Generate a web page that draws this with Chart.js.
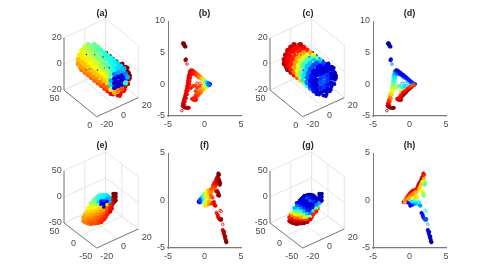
<!DOCTYPE html>
<html><head><meta charset="utf-8">
<script src="https://cdn.jsdelivr.net/npm/chart.js@4/dist/chart.umd.min.js"></script>
<style>html,body{margin:0;padding:0;background:#fff;width:498px;height:279px;overflow:hidden}
canvas{position:absolute;display:block}</style></head><body>
<script>
// ---------- tick labels ----------
const ticks2dX = [-5, 0, 5];
const ticks2dYTop = [-5, 0, 5, 10];
const ticks2dYBottom = [-5, 0, 5];
const ticksCylX = [-20, 0, 20], ticksCylY = [0, 50], ticksCylZ = [-20, 0, 20];
const ticksSwX = [-20, 0, 20], ticksSwY = [-50, 0, 50], ticksSwZ = [-50, 0, 50];

// ---------- panels (a),(c): cylinder ----------
const cylY = [45, 40, 35, 30, 25, 20, 15, 10, 5, 0];
const cylRibX = [6.1, 0, -3.2, -6.1, -8.2, -9.4, -9.4, -6.1];
const cylRibZ = [7.3, 9.5, 8.9, 7.3, 4.75, 1.65, -1.65, -7.3];
const cylColA = [
 .48,.52,.56,.6,.64,.68,.72,.76, .46,.5,.55,.6,.64,.68,.72,.76,
 .44,.49,.54,.59,.64,.68,.72,.77, .42,.47,.53,.58,.63,.68,.72,.77,
 .41,.46,.52,.58,.63,.68,.73,.78, .39,.44,.5,.56,.62,.68,.73,.79,
 .37,.42,.48,.55,.62,.68,.74,.8, .35,.4,.46,.54,.61,.68,.75,.82,
 .33,.38,.44,.52,.6,.68,.76,.85, .3,.34,.38,.46,.55,.66,.78,.88];
const cylColC = [
 .95,.93,.93,.92,.92,.93,.95,.97, .88,.88,.87,.87,.88,.88,.9,.92,
 .85,.85,.84,.84,.84,.85,.85,.87, .72,.72,.7,.7,.72,.72,.75,.78,
 .6,.58,.58,.58,.6,.62,.65,.68, .45,.44,.44,.44,.46,.48,.5,.52,
 .33,.32,.32,.32,.34,.35,.36,.38, .2,.2,.2,.2,.22,.22,.24,.25,
 .12,.12,.12,.12,.14,.14,.14,.15, .08,.08,.08,.08,.1,.1,.1,.1];
const cyl2Y = [42.5, 37.5, 32.5, 27.5, 22.5, 17.5, 12.5, 7.5, 2.5];
const cyl2RibX = [3.2, -1.65, -4.75, -7.3, -8.9, -9.5, -8.9];
const cyl2RibZ = [8.9, 9.36, 8.2, 6.1, 3.25, 0, -3.25];
const cyl2ColA = [
 .5,.53,.57,.62,.66,.7,.74, .48,.52,.56,.61,.66,.7,.74, .46,.5,.55,.6,.65,.7,.74,
 .45,.49,.54,.6,.65,.7,.75, .43,.47,.53,.59,.65,.7,.75, .41,.45,.51,.58,.65,.7,.76,
 .39,.43,.5,.57,.64,.71,.77, .37,.41,.48,.56,.64,.71,.79, .34,.38,.45,.54,.62,.71,.82];
const cyl2ColC = [
 .92,.9,.9,.9,.9,.92,.94, .87,.86,.86,.86,.86,.88,.9, .78,.78,.77,.77,.78,.8,.82,
 .66,.65,.65,.65,.66,.68,.72, .52,.5,.5,.5,.53,.55,.58, .38,.38,.38,.38,.4,.42,.44,
 .26,.26,.26,.26,.28,.28,.3, .16,.16,.16,.16,.18,.18,.2, .1,.1,.1,.1,.12,.12,.12];
const ringX = [12,11,10.4,8,8.5,8.5,8.5,8,8.5,8,6,12,10.4,9,6,3,0,-3,11,7,5,1,11,12.5,10];
const ringY = [0,3,1,0,5,10,15,20,25,30,2,0,0,2,0,0,0,2,0,0,3,-2,0,3,8];
const ringZ = [0,3,6,8,6,6,6,6,6,6.5,10.4,-2,-6,-8,-10,-11,-11,-10,-3,-9,-11,-11,2,1,5];
const ringColA = [1,1,1,1,1,1,1,1,1,1,1,1,.95,.93,.9,.9,.88,.86,1,.9,.88,.88,1,1,1];
const ringColC = [.06,.08,.06,.05,.08,.1,.08,.06,.08,.1,.05,.06,.07,.05,.06,.08,.06,.08,.05,.07,.1,.06,.05,.08,.1];
const capX = [-3.5,0,3.5, -7,-3.5,0,3.5,7, -7,-3.5,0,3.5,7,9, -7,-3.5,0,3.5,7, -3.5,0,3.5];
const capY = [-1,-1,-1, -1,-1,-1,-1,-1, -1,-1,-1,-1,-1,-1, -1,-1,-1,-1,-1, -1,-1,-1];
const capZ = [7,7,7, 3.5,3.5,3.5,3.5,3.5, 0,0,0,0,0,0, -3.5,-3.5,-3.5,-3.5,-3.5, -7,-7,-7];
const capColA = [.25,.28,.3, .3,.1,.08,.1,.25, .35,.08,.05,.06,.12,.3, .55,.1,.06,.08,.4, .7,.75,.8];
const capColC = [.08,.1,.1, .08,.18,.2,.16,.08, .08,.2,.22,.18,.1,.06, .08,.16,.18,.14,.08, .06,.08,.08];
const speckX = [-6,-3,0,-8,-9,-5,-8,-3,-9,-4,-8,-1,-9,2];
const speckY = [38,30,22,18,28,12,8,8,34,35,22,15,14,28];
const speckZ = [7,9,9.5,4,1,7,-3,8,-2,8,3,9,-1,9];
const speckColA = [.12,.2,.15,.1,.2,.25,.9,.15,.15,-1,-1,-1,-1,-1];
const speckColC = [.5,.9,.1,.9,.3,.9,.2,.7,.15,-1,-1,-1,-1,-1];

// ---------- panels (e),(g): swoosh. One view does not fix depth, so only x and z are listed ----------
const swX = [-17.2,-17.2, -14.3,-14.3,-14.3,-14.3, -11.4,-11.4,-11.4,-11.4,-11.4,-11.4,
 -8.5,-8.5,-8.5,-8.5,-8.5,-8.5,-8.5,-8.5, -5.6,-5.6,-5.6,-5.6,-5.6,-5.6,-5.6,-5.6,-5.6,
 -2.7,-2.7,-2.7,-2.7,-2.7,-2.7,-2.7,-2.7,-2.7,-2.7, .15,.15,.15,.15,.15,.15,.15,.15,.15,.15,
 3,3,3,3,3,3,3,3,3, 5.9,5.9,5.9,5.9,5.9,5.9,5.9, 8.8,8.8,8.8,8.8,8.8,
 11.7,11.7,11.7,11.7, 14,14,14];
const swZ = [-18,-25, -12,-18,-24,-31, -6,-12,-18,-24,-30,-35,
 2,-4,-10,-16,-22,-28,-34,-38, 7,1,-5,-11,-17,-23,-29,-35,-40,
 10,4,-2,-8,-14,-20,-26,-32,-38,-42, 9,3,-3,-9,-15,-21,-27,-33,-39,-43,
 7,1,-5,-11,-17,-23,-29,-35,-40, 3,-3,-9,-15,-21,-27,-33, -6,-12,-18,-24,-30,
 1,-5,-11,-17, -1,-7,-14];
const swColE = [.72,.75, .68,.7,.73,.76, .62,.66,.7,.73,.76,.78,
 .52,.58,.64,.68,.72,.75,.78,.8, .45,.48,.55,.62,.68,.72,.76,.78,.8,
 .42,.4,.35,.55,.66,.7,.74,.78,.8,.82, .4,.38,.12,.1,.68,.72,.76,.8,.82,.84,
 .38,.35,.2,.08,.1,.72,.78,.82,.85, .35,.28,.08,.65,.78,.82,.85, .3,.3,.84,.87,.9,
 1,.98,.92,.9, 1,1,1];
const swColG = [.85,.95, .6,.75,.88,.97, .3,.45,.6,.75,.88,.97,
 .12,.22,.35,.5,.65,.78,.9,.97, .08,.1,.14,.25,.4,.55,.7,.85,.97,
 .06,.08,.1,.12,.18,.3,.48,.65,.85,.97, .06,.2,.1,.08,.12,.18,.32,.55,.78,.95,
 .05,.15,.22,.08,.08,.12,.25,.55,.9, .05,.1,.18,.08,.15,.4,.85, .05,.1,.25,.5,.85,
 .04,.05,.08,.3, .04,.04,.05];
const sw2X = [-15.8,-15.8,-15.8, -12.9,-12.9,-12.9,-12.9,-12.9,-12.9,
 -10,-10,-10,-10,-10,-10,-10,-10, -7.1,-7.1,-7.1,-7.1,-7.1,-7.1,-7.1,-7.1,
 -4.2,-4.2,-4.2,-4.2,-4.2,-4.2,-4.2,-4.2,-4.2, -1.3,-1.3,-1.3,-1.3,-1.3,-1.3,-1.3,-1.3,-1.3,
 1.6,1.6,1.6,1.6,1.6,1.6,1.6,1.6,1.6, 4.5,4.5,4.5,4.5,4.5,4.5,4.5,4.5,
 7.4,7.4,7.4,7.4,7.4,7.4, 10.3,10.3,10.3, 12.9,12.9,12.9];
const sw2Z = [-14,-21,-28, -4,-10,-16,-22,-28,-33,
 3,-3,-9,-15,-21,-27,-33,-37, 5,-1,-7,-13,-19,-25,-31,-37,
 8,2,-4,-10,-16,-22,-28,-34,-40, 9,3,-3,-9,-15,-21,-27,-33,-39,
 8,2,-4,-10,-16,-22,-28,-34,-40, 5,-1,-7,-13,-19,-25,-31,-37,
 -1,-7,-13,-19,-25,-31, -14,-20,-26, -3,-9,-15];
const sw2ColE = [.7,.73,.76, .62,.66,.7,.73,.76,.78,
 .52,.58,.63,.67,.7,.74,.77,.8, .48,.5,.56,.62,.68,.72,.76,.8,
 .44,.45,.46,.58,.64,.7,.74,.78,.81, .42,.38,.14,.1,.62,.7,.74,.78,.82,
 .38,.34,.12,.08,.08,.7,.76,.8,.84, .36,.3,.14,.08,.62,.78,.82,.86,
 .32,.28,.18,.8,.84,.87, .88,.9,.9, 1,.98,.95];
const sw2ColG = [.75,.88,.96, .38,.52,.68,.82,.92,.98,
 .15,.25,.38,.52,.66,.8,.9,.97, .08,.12,.2,.32,.48,.62,.78,.92,
 .07,.08,.12,.16,.28,.42,.6,.78,.95, .06,.14,.1,.08,.14,.24,.4,.62,.85,
 .05,.18,.14,.08,.1,.16,.28,.55,.8, .05,.12,.2,.08,.1,.2,.5,.88,
 .05,.08,.08,.15,.4,.8, .18,.4,.8, .04,.05,.08];

// ---------- panels (b),(d) ----------
const bX = [-2.95,-2.85,-2.75,-2.7,-2.6,-2.85,-2.55,-2.6,
 -2,-2.05,-2.15,-2.2,-2.25,-2.3,-2.35,-2.4,-2.5,-2.55,-2.65,-2.75,-2.85,-2.95,-3,
 -1.85,-1.95,-2.05,-2.1,-2.2,-2.3,-2.4,-2.55,-2.7,-2.8, -2.9,-2.7,-2.5,-2.3,-2.15,
 -1.9,-1.6,-1.3,-1,-.7,-1.2,-1.6,-1.3,-1.15,
 .5,.3,.1,-.1,-.3,-.5,-.7,-.9,-1.1,-1.3,-1.5, .3,0,-.3,-.6,-.9,-1.2,-1.4,
 -1.7,-1.4,-1.1,-.8,-.5,-.2,.1,.35,
 -1.8,-1.6,-1.4,-1.2,-1,-.8,-.6,-.4,-.2,0,.2,.4,.6, .7,.75,.65,.6,.55];
const bY = [6.45,6.3,6.2,6,5.95,6.5,3.95,3.8,
 2.05,1.7,1.35,1,.6,.2,-.2,-.6,-1,-1.4,-1.8,-2.2,-2.6,-3,-3.4,
 1.5,1,.5,0,-.5,-1,-1.6,-2.2,-2.7,-3.2, -3.5,-3.65,-3.7,-3.75,-3.7,
 -.6,-.3,-.2,-.55,-.3,-1.1,-2.3,-2.5,-2.45,
 -.2,-.4,-.6,-.8,-1,-1.3,-1.5,-1.75,-2,-2.2,-2.45, -.2,-.4,-.7,-1,-1.3,-1.7,-2.1,
 1.85,1.6,1.4,1.1,.9,.55,.3,.05,
 2.25,2.15,1.95,1.8,1.6,1.45,1.25,1.05,.85,.65,.45,.25,.1, 0,.05,-.1,.1,-.05];
const bColB = [1,1,1,1,1,1,.97,.97,
 .9,.9,.91,.91,.9,.91,.92,.91,.92,.91,.92,.92,.93,.93,.94,
 .88,.88,.88,.88,.88,.88,.89,.9,.91,.91, .95,.96,.96,.96,.95,
 .86,.84,.82,.82,.8,.82,.9,.87,.87,
 .4,.5,.6,.65,.7,.75,.78,.8,.82,.85,.86, .45,.6,.7,.75,.8,.83,.85,
 .88,.85,.82,.78,.72,.66,.55,.38,
 .9,.88,.85,.83,.8,.78,.75,.7,.65,.55,.45,.3,.18, .12,.1,.15,.18,.25];
const bColD = [.04,.05,.04,.06,.05,.04,.12,.12,
 .2,.27,.33,.38,.44,.48,.53,.57,.62,.66,.7,.76,.82,.88,.92,
 .3,.36,.42,.48,.54,.6,.66,.74,.82,.88, .95,1,1,1,1,
 .55,.5,.45,.42,.35,.6,.95,.95,.95,
 .9,.92,.95,.97,1,1,1,1,.97,.95,.92, .8,.82,.85,.85,.88,.88,.9,
 .18,.18,.2,.22,.25,.28,.3,.35,
 .06,.07,.08,.09,.1,.11,.12,.13,.14,.15,.15,.17,.2, .88,.15,.85,.2,.8];
const bHollowX = [-2.4,-3.1,-1.75,-.5,-.1,-1,-.6];
const bHollowY = [3.2,-4.15,-2.3,-.2,-.1,.2,.15];
const bHollowColB = [.92,.95,.88,.85,.75,.88,.85];
const bHollowColD = [.22,1,.87,.4,.3,.3,.3];

// ---------- panels (f),(h) ----------
const fX = [-.5,-.35,-.2,-.05,.1,.3,.5,.7,.9, -.4,-.2,0,.15,.35,.55,.75,.95,
 1.05,1.15,1.25,1.35,1.5,1.6,1.7,1.85,1.9,2, 1.3,1.45,1.55,1.65,1.8,1.95,2.05,2.15,2.1,
 1.6,1.75,1.9,1.95,2,1.85, .9,1.1,.7,.4,
 -.3,0,.2,.4,.6,.85,1.05,1.25,1.4,1.5,1.3,.3,.6,.1,
 1.65,1.8,1.85,1.95,2.1,2.25,2.3, 2.5,2.6,2.65,2.75,2.8,2.9,2.95,3,2.7,2.85,
 -.73,-.8,-.65,-.7,-.6];
const fY = [.2,.35,.5,.65,.8,.95,1.05,1.1,1.15, 0,.15,.3,.5,.6,.75,.85,.9,
 1.3,1.5,1.7,1.85,2,2.2,2.4,2.6,2.85,2.7, 1.2,1.4,1.6,1.8,2,2.3,2.05,1.85,1.65,
 .95,1,.8,.6,.5,.55, .5,.3,.3,.3,
 -.2,-.3,-.4,-.45,-.35,-.35,-.25,-.35,-.5,-.55,-.15,-.1,-.1,-.55,
 -1.3,-1.5,-1.7,-1.85,-2,-2.05,-1.95, -3.1,-3.3,-3.5,-3.7,-3.9,-4.1,-4.3,-4.4,-3.3,-3.8,
 -.1,-.15,-.2,0,.05];
const fColF = [.25,.3,.38,.45,.55,.62,.68,.72,.75, .3,.4,.5,.58,.63,.68,.72,.75,
 .8,.82,.85,.86,.88,.9,.93,.97,1,1, .78,.8,.85,.88,.92,.96,1,1,1,
 .92,.95,.98,1,1,.98, .8,.82,.75,.65,
 .45,.55,.62,.68,.72,.78,.83,.85,.88,.9,.88,.6,.7,.65,
 .85,.88,.9,.92,.94,.96,.97, .93,.94,.95,.96,.97,.98,1,1,.95,.98,
 .12,.1,.14,.15,.2];
const fColH = [.8,.82,.84,.86,.88,.9,.9,.88,.85, .7,.7,.72,.72,.75,.75,.72,.7,
 .88,.9,.92,.92,.93,.93,.95,.93,.9,.85, .68,.65,.65,.68,.62,.72,.55,.5,.45,
 .6,.62,.55,.5,.5,.52, .65,.6,.68,.62,
 .15,.12,.1,.1,.2,.28,.33,.35,.3,.28,.4,.35,.38,.1,
 .12,.12,.14,.16,.2,.22,.2, .08,.08,.07,.06,.06,.05,.04,.03,.07,.05,
 .1,.08,.72,.68,.75];
const fHollowX = [2.14,2.3,2.5];
const fHollowY = [-1.05,-1.15,-2.5];
const fHollowColF = [.88,.88,.9];
const fHollowColH = [.35,.4,.28];

// ---------- helpers ----------
const FONT = '"Liberation Sans", Arial, sans-serif';
const TXT = '#4a4a4a', AX = '#7a7a7a', GRID = '#e6e6e6';
function clamp(v){return Math.max(0,Math.min(1,v));}
function jet(c){
  if(c<0) return '#ffffff';
  const r=clamp(Math.min(4*c-1.5,-4*c+4.5)),g=clamp(Math.min(4*c-.5,-4*c+3.5)),b=clamp(Math.min(4*c+.5,-4*c+2.5));
  return `rgb(${Math.round(r*255)},${Math.round(g*255)},${Math.round(b*255)})`;
}
function zip(xs,ys){return xs.map((x,i)=>({x,y:ys[i]}));}
function addCanvas(l,t,w,h){
  const c=document.createElement('canvas');
  c.width=w;c.height=h;c.style.left=l+'px';c.style.top=t+'px';c.style.width=w+'px';c.style.height=h+'px';
  document.body.appendChild(c);return c;
}
function titleOpt(text){
  return {display:true,text,fullSize:false,color:'#262626',font:{family:FONT,size:9,weight:'bold',lineHeight:1.2},padding:{top:7.6,bottom:1.6}};
}
const base={responsive:false,animation:false,devicePixelRatio:1,events:[]};

function panel2D(left,rowTop,title,yTicks,yMin,yMax,xs,ys,cols,hx,hy,hc){
  const W=73,H=95,padL=24,padB=18,padR=8;
  const cv=addCanvas(left-padL,rowTop-20,padL+W+padR,20+H+padB);
  const mk=(arr)=>(s)=>{s.ticks=arr.map(v=>({value:v}));};
  const tickFont={family:FONT,size:9};
  new Chart(cv,{type:'scatter',data:{datasets:[
    {data:zip(xs,ys),pointRadius:1.7,pointBorderWidth:.6,
     pointBackgroundColor:cols.map(jet),pointBorderColor:cols.map(jet),clip:false},
    {data:zip(hx,hy),pointRadius:1.3,pointBorderWidth:.8,
     pointBackgroundColor:'rgba(255,255,255,.5)',pointBorderColor:hc.map(jet),clip:false}
  ]},options:{...base,
    layout:{padding:{left:0,right:padR,top:0,bottom:0},autoPadding:false},
    plugins:{legend:{display:false},tooltip:{enabled:false},title:titleOpt(title)},
    scales:{
      x:{type:'linear',min:-5,max:5,afterBuildTicks:mk(ticks2dX),afterFit(s){s.height=padB;},
         grid:{display:false,drawTicks:false},border:{display:true,color:AX,width:1.3},
         ticks:{color:TXT,font:tickFont,padding:3,maxRotation:0,autoSkip:false}},
      y:{type:'linear',min:yMin,max:yMax,afterBuildTicks:mk(yTicks),afterFit(s){s.width=padL;},
         grid:{display:false,drawTicks:false},border:{display:true,color:AX,width:1},
         ticks:{color:TXT,font:tickFont,padding:3,autoSkip:false}}
    }}});
}

function panel3D(left,rowTop,title,view,sets){
  const L=left,W=124,H=130;
  const cv=addCanvas(L,rowTop-20,W,H);
  const P=(x,y,z)=>{
    const u=(x-view.x[0])/(view.x[1]-view.x[0]),v=(y-view.y[0])/(view.y[1]-view.y[0]),w=(z-view.z[0])/(view.z[1]-view.z[0]);
    return {x:view.fx+u*41.6-v*32.7,y:view.fy-u*19-v*view.dy-w*52.2};
  };
  const [x0,x1]=view.x,[y0,y1]=view.y,[z0,z1]=view.z;
  const grid=[],axes=[];
  const seg=(arr,a,b)=>{arr.push(P(...a),P(...b),{x:NaN,y:NaN});};
  view.zt.forEach(z=>{seg(grid,[x0,y1,z],[x1,y1,z]);seg(grid,[x1,y1,z],[x1,y0,z]);});
  view.xt.forEach(x=>{seg(grid,[x,y1,z0],[x,y1,z1]);seg(grid,[x,y0,z0],[x,y1,z0]);});
  view.yt.forEach(y=>{seg(grid,[x1,y,z0],[x1,y,z1]);seg(grid,[x0,y,z0],[x1,y,z0]);});
  seg(axes,[x0,y1,z0],[x0,y1,z1]);seg(axes,[x0,y1,z0],[x0,y0,z0]);seg(axes,[x0,y0,z0],[x1,y0,z0]);
  const datasets=[
    {data:grid,showLine:true,pointRadius:0,borderColor:GRID,borderWidth:1,clip:false,spanGaps:false},
    {data:axes,showLine:true,pointRadius:0,borderColor:AX,borderWidth:1,clip:false,spanGaps:false}
  ];
  sets.forEach(s=>{
    const cols=s.c.map(jet);
    datasets.push({data:s.pts.map(p=>P(p[0],p[1],p[2])),pointRadius:s.r,pointBorderWidth:0,
      pointBackgroundColor:cols,pointBorderColor:cols,clip:false});
  });
  const labels={id:'tickText',afterDatasetsDraw(ch){
    const g=ch.ctx,sx=ch.scales.x,sy=ch.scales.y;
    g.save();g.font='9px '+FONT;g.fillStyle=TXT;g.textBaseline='middle';
    const put=(t,p,dx,dy,al)=>{g.textAlign=al;g.fillText(String(t),sx.getPixelForValue(p.x)+dx,sy.getPixelForValue(p.y)+dy);};
    view.xt.forEach(v=>put(v,P(v,y0,z0),3.5,8.3,'left'));
    view.yt.forEach(v=>put(v,P(x0,v,z0),-4.4,8.5,'right'));
    view.zt.forEach(v=>put(v,P(x0,y1,v),-2.3,-.5,'right'));
    g.restore();
  }};
  new Chart(cv,{type:'scatter',data:{datasets:datasets.reverse()},plugins:[labels],options:{...base,
    layout:{padding:0,autoPadding:false},
    plugins:{legend:{display:false},tooltip:{enabled:false},title:titleOpt(title)},
    scales:{x:{type:'linear',display:false,min:0,max:W},y:{type:'linear',display:false,min:0,max:H-20,reverse:true}}
  }});
}

const L3 = 40;
const viewCyl = {x:[-20,20],y:[0,50],z:[-20,20],xt:ticksCylX,yt:ticksCylY,zt:ticksCylZ,fx:96.7-L3,fy:95.7,dy:26.7};
const viewSw  = {x:[-20,20],y:[-50,50],z:[-50,50],xt:ticksSwX,yt:ticksSwY,zt:ticksSwZ,fx:96.7-L3,fy:95,dy:25};

function cylSets(colCyl,colCyl2,colRing,colCap,colSpeck){
  const pts=[],pts2=[];
  cylY.forEach(y=>cylRibX.forEach((x,i)=>pts.push([x,y,cylRibZ[i]])));
  cyl2Y.forEach(y=>cyl2RibX.forEach((x,i)=>pts2.push([x,y,cyl2RibZ[i]])));
  return [
    {pts:ringX.map((x,i)=>[x,ringY[i],ringZ[i]]),c:colRing,r:2},
    {pts:pts2,c:colCyl2,r:2.6},
    {pts,c:colCyl,r:2.6},
    {pts:capX.map((x,i)=>[x,capY[i],capZ[i]]),c:colCap,r:2.5},
    {pts:speckX.map((x,i)=>[x,speckY[i],speckZ[i]]),c:colSpeck,r:.7}
  ];
}
function swSets(col,col2){
  return [{pts:sw2X.map((x,i)=>[x,0,sw2Z[i]]),c:col2,r:2.1},{pts:swX.map((x,i)=>[x,0,swZ[i]]),c:col,r:2.1}];
}

const rowTop=21,rowBot=153;
panel3D(L3,rowTop,'(a)',viewCyl,cylSets(cylColA,cyl2ColA,ringColA,capColA,speckColA));
panel2D(168,rowTop,'(b)',ticks2dYTop,-5,10,bX,bY,bColB,bHollowX,bHollowY,bHollowColB);
panel3D(L3+206,rowTop,'(c)',viewCyl,cylSets(cylColC,cyl2ColC,ringColC,capColC,speckColC));
panel2D(373,rowTop,'(d)',ticks2dYTop,-5,10,bX,bY,bColD,bHollowX,bHollowY,bHollowColD);
panel3D(L3,rowBot,'(e)',viewSw,swSets(swColE,sw2ColE));
panel2D(168,rowBot,'(f)',ticks2dYBottom,-5,5,fX,fY,fColF,fHollowX,fHollowY,fHollowColF);
panel3D(L3+206,rowBot,'(g)',viewSw,swSets(swColG,sw2ColG));
panel2D(373,rowBot,'(h)',ticks2dYBottom,-5,5,fX,fY,fColH,fHollowX,fHollowY,fHollowColH);
</script></body></html>
